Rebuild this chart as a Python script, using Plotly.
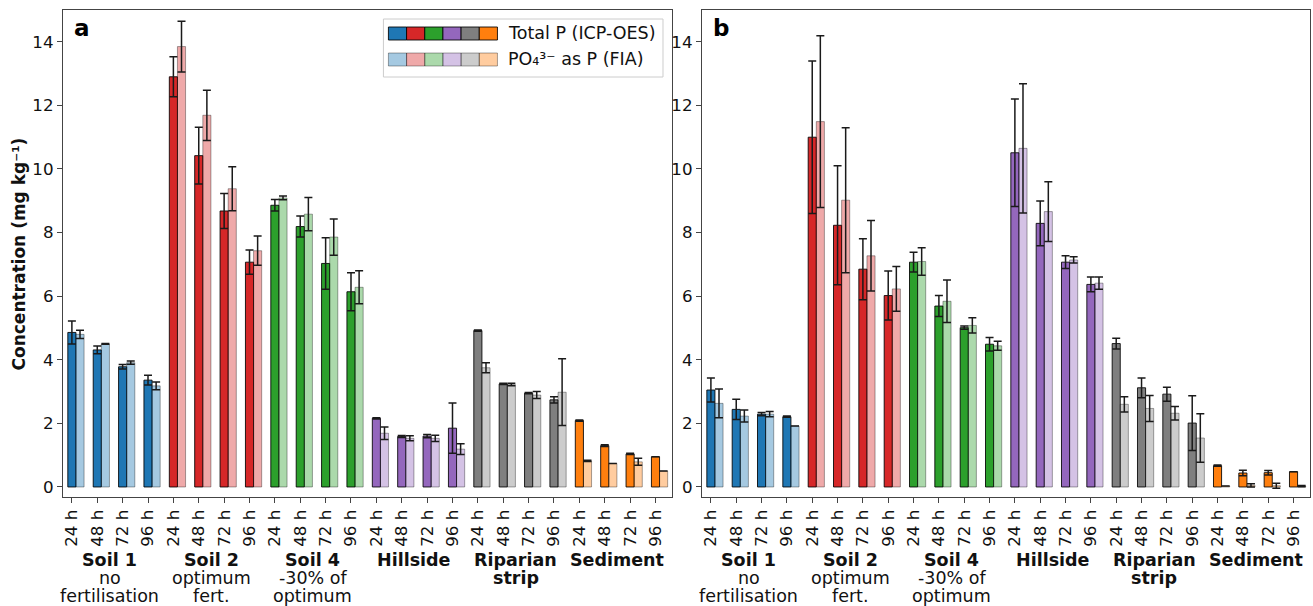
import plotly.graph_objects as go

W, H = 1313, 606

SITES = ["Soil 1", "Soil 2", "Soil 4", "Hillside", "Riparian<br>strip", "Sediment"]
SITE_NOTES = ["no<br>fertilisation", "optimum<br>fert.", "-30% of<br>optimum", "", "", ""]
TIMES = ["24 h", "48 h", "72 h", "96 h"]

DARK = ["#1f77b4", "#d62728", "#2ca02c", "#9467bd", "#7f7f7f", "#ff7f0e"]
LIGHT = ["rgba(31,119,180,0.4)", "rgba(214,39,40,0.4)", "rgba(44,160,44,0.4)",
         "rgba(148,103,189,0.4)", "rgba(127,127,127,0.4)", "rgba(255,127,14,0.4)"]

# Panel a
A_TOTAL = [4.86, 4.31, 3.78, 3.36,
           12.90, 10.42, 8.68, 7.07,
           8.86, 8.19, 7.03, 6.14,
           2.16, 1.59, 1.60, 1.85,
           4.92, 3.24, 2.95, 2.74,
           2.09, 1.30, 1.04, 0.95]
A_TOTAL_ERR = [0.36, 0.12, 0.07, 0.15,
               0.63, 0.89, 0.55, 0.38,
               0.18, 0.33, 0.81, 0.60,
               0.02, 0.03, 0.05, 0.79,
               0.02, 0.02, 0.02, 0.10,
               0.02, 0.03, 0.02, 0.0]
A_FIA = [4.80, 4.50, 3.91, 3.18,
         13.85, 11.69, 9.38, 7.43,
         9.09, 8.58, 7.86, 6.28,
         1.69, 1.53, 1.53, 1.19,
         3.75, 3.22, 2.89, 2.98,
         0.82, 0.74, 0.79, 0.50]
A_FIA_ERR = [0.13, 0.01, 0.05, 0.12,
             0.80, 0.79, 0.69, 0.46,
             0.06, 0.52, 0.57, 0.52,
             0.20, 0.08, 0.10, 0.17,
             0.16, 0.04, 0.11, 1.05,
             0.02, 0.0, 0.11, 0.0]

# Panel b
B_TOTAL = [3.05, 2.44, 2.29, 2.21,
           11.00, 8.23, 6.85, 6.02,
           7.07, 5.69, 5.01, 4.49,
           10.51, 8.29, 7.07, 6.37,
           4.51, 3.12, 2.92, 2.01,
           0.67, 0.44, 0.45, 0.48]
B_TOTAL_ERR = [0.38, 0.32, 0.05, 0.02,
               2.40, 1.87, 0.96, 0.77,
               0.31, 0.33, 0.05, 0.21,
               1.69, 0.70, 0.20, 0.23,
               0.17, 0.31, 0.22, 0.86,
               0.02, 0.09, 0.07, 0.0]
B_FIA = [2.63, 2.23, 2.29, 1.92,
         11.49, 9.02, 7.27, 6.23,
         7.09, 5.84, 5.08, 4.44,
         10.65, 8.66, 7.14, 6.41,
         2.60, 2.47, 2.32, 1.54,
         0.03, 0.05, 0.04, 0.03]
B_FIA_ERR = [0.45, 0.19, 0.08, 0.0,
             2.70, 2.28, 1.11, 0.70,
             0.43, 0.67, 0.24, 0.14,
             2.03, 0.94, 0.10, 0.19,
             0.24, 0.41, 0.21, 0.76,
             0.0, 0.05, 0.08, 0.02]

LEGEND_LABELS = ["Total P (ICP-OES)", "PO₄³⁻ as P (FIA)"]

FONT = "DejaVu Sans"
BW = 0.32
n = len(SITES) * len(TIMES)
xs = list(range(n))
tick_text = TIMES * len(SITES)
dark_cols = [c for c in DARK for _ in TIMES]
light_cols = [c for c in LIGHT for _ in TIMES]


def px_x(p):
    return p / W


def px_y(p):
    return 1 - p / H


fig = go.Figure()

panels = [("x", "y", A_TOTAL, A_TOTAL_ERR, A_FIA, A_FIA_ERR),
          ("x2", "y2", B_TOTAL, B_TOTAL_ERR, B_FIA, B_FIA_ERR)]

for xa, ya, tot, tot_e, fia, fia_e in panels:
    fig.add_trace(go.Bar(
        x=xs, y=tot, width=BW, xaxis=xa, yaxis=ya,
        marker=dict(color=dark_cols, line=dict(color="rgba(0,0,0,0.85)", width=1)),
        error_y=dict(type="data", array=tot_e, visible=True, color="#1a1a1a",
                     thickness=1.5, width=4),
        showlegend=False, name=LEGEND_LABELS[0]))
    fig.add_trace(go.Bar(
        x=[v + BW for v in xs], y=fia, width=BW, xaxis=xa, yaxis=ya,
        marker=dict(color=light_cols, line=dict(color="rgba(0,0,0,0.35)", width=1)),
        error_y=dict(type="data", array=fia_e, visible=True, color="#1a1a1a",
                     thickness=1.5, width=4),
        showlegend=False, name=LEGEND_LABELS[1]))

ydom = [px_y(497), px_y(10)]
xr = [-0.354, 23.65]
yr = [-0.315, 15.0]
axis_common = dict(showline=True, mirror=True, linecolor="#444", linewidth=1,
                   ticks="outside", ticklen=5, tickcolor="#444", showgrid=False,
                   zeroline=False, tickfont=dict(family=FONT, size=16.7, color="#111"))

fig.update_layout(
    width=W, height=H, margin=dict(l=0, r=0, t=0, b=0),
    paper_bgcolor="white", plot_bgcolor="white", barmode="overlay",
    font=dict(family=FONT, color="#111"),
    xaxis=dict(domain=[px_x(61), px_x(671)], range=xr, tickmode="array",
               tickvals=xs, ticktext=tick_text, tickangle=-90, anchor="y", **axis_common),
    xaxis2=dict(domain=[px_x(701), px_x(1310)], range=xr, tickmode="array",
                tickvals=xs, ticktext=tick_text, tickangle=-90, anchor="y2", **axis_common),
    yaxis=dict(domain=ydom, range=yr, tickmode="array", tickvals=list(range(0, 15, 2)),
               anchor="x", **axis_common),
    yaxis2=dict(domain=ydom, range=yr, tickmode="array", tickvals=list(range(0, 15, 2)),
                anchor="x2", **axis_common),
)

ann = []
# y title
ann.append(dict(text="<b>Concentration (mg kg⁻¹)</b>", x=px_x(18), y=(ydom[0] + ydom[1]) / 2,
                xref="paper", yref="paper", textangle=-90, showarrow=False,
                font=dict(family=FONT, size=17, color="#111"), xanchor="center", yanchor="middle"))
# panel letters
for letter, xp in [("a", 80), ("b", 720)]:
    ann.append(dict(text=f"<b>{letter}</b>", x=px_x(xp), y=px_y(28), xref="paper", yref="paper",
                    showarrow=False, font=dict(family=FONT, size=23, color="#000"),
                    xanchor="center", yanchor="middle"))
# group labels
for xa in ["x", "x2"]:
    for g, (name, note) in enumerate(zip(SITES, SITE_NOTES)):
        cx = g * len(TIMES) + (len(TIMES) - 1) / 2
        lines = [(t, True) for t in name.split("<br>")]
        if note:
            lines += [(t, False) for t in note.split("<br>")]
        for k, (t, bold) in enumerate(lines):
            ann.append(dict(text=f"<b>{t}</b>" if bold else t, x=cx, xref=xa,
                            y=px_y(560 + 18 * k), yref="paper", showarrow=False,
                            font=dict(family=FONT, size=17.5, color="#111"),
                            xanchor="center", yanchor="middle"))

# legend (drawn manually: 6-colour patch rows)
shapes = []
shapes.append(dict(type="rect", xref="paper", yref="paper",
                   x0=px_x(382), x1=px_x(662), y0=px_y(77), y1=px_y(19),
                   line=dict(color="#cccccc", width=1), fillcolor="rgba(255,255,255,0.85)",
                   layer="above"))
for row, (cols, edge, label) in enumerate([(DARK, "rgba(0,0,0,0.85)", LEGEND_LABELS[0]),
                                           (LIGHT, "rgba(0,0,0,0.35)", LEGEND_LABELS[1])]):
    top = 27 + row * 26
    for i, c in enumerate(cols):
        shapes.append(dict(type="rect", xref="paper", yref="paper",
                           x0=px_x(387 + 18.2 * i), x1=px_x(387 + 18.2 * (i + 1)),
                           y0=px_y(top + 13), y1=px_y(top), fillcolor=c,
                           line=dict(color=edge, width=1), layer="above"))
    ann.append(dict(text=label, x=px_x(505), y=px_y(top + 6.5), xref="paper", yref="paper",
                    showarrow=False, font=dict(family=FONT, size=17.5, color="#111"),
                    xanchor="left", yanchor="middle"))

fig.update_layout(annotations=ann, shapes=shapes)
fig.write_html("out.html", config={"displayModeBar": False},
               post_script="document.body.style.margin='0';document.body.style.overflow='hidden';")
